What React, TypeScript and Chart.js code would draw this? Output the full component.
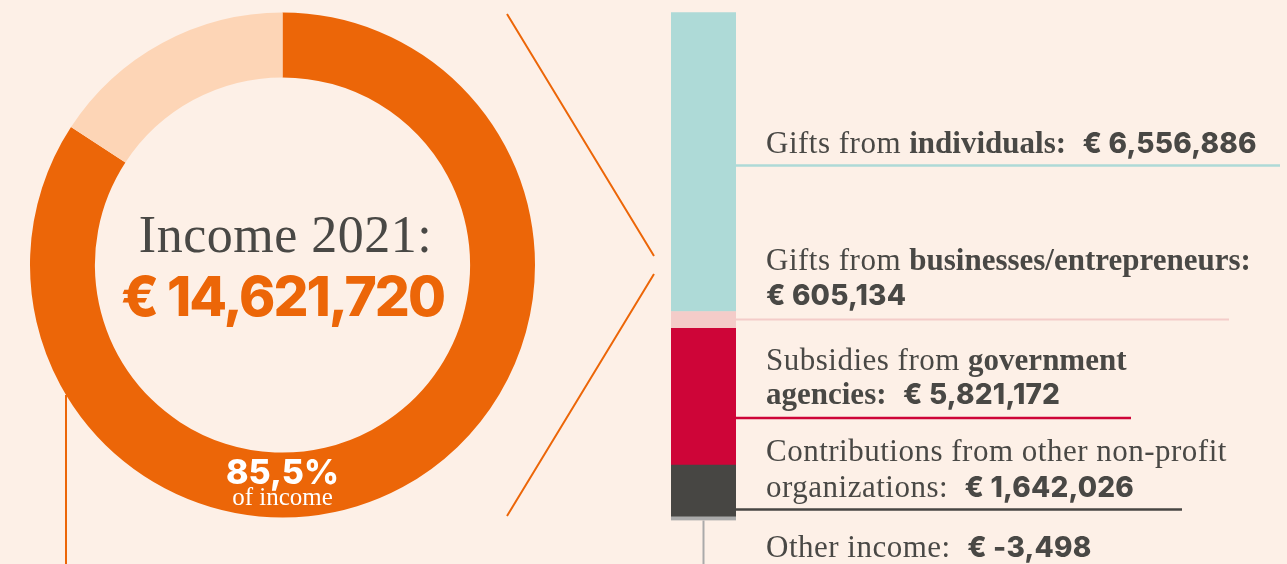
import React, { useEffect, useRef } from 'react';
import { Chart, registerables } from 'chart.js';

Chart.register(...registerables);

// ---------- data ----------
const donutLabels = ['Broken down on the right', 'Rest of income'];
const donutShares = [84.2, 15.8];
const incomeYear = 2021;
const totalIncome = 14621720;
const shareText = '85,5%';
const shareCaption = 'of income';

const sourceNames = [
  'Gifts from individuals',
  'Gifts from businesses/entrepreneurs',
  'Subsidies from government agencies',
  'Contributions from other non-profit organizations',
  'Other income',
];
const sourceAmounts = [6556886, 605134, 5821172, 1642026, -3498];
const barShares = [58.8, 3.3, 26.9, 10.2, 0.7];

// ---------- styles ----------
const W = 1287;
const H = 564;
const BG = '#FDF0E7';
const TEXT = '#494845';
const ORANGE = '#EC6608';
const PEACH = '#FDD5B6';
const sourceColors = ['#AEDAD7', '#F4CCC9', '#CE0538', '#474643', '#AAAAAA'];

const SERIF = '"Liberation Serif", serif';
const SANS = 'Inter, "Open Sans", sans-serif';
const LABEL_SIZE = 31;
const VALUE_SIZE = 28;

type Run = [string, 'r' | 'b' | 'v'];
const labelLines: Run[][][] = [
  [[['Gifts from ', 'r'], ['individuals:', 'b'], ['  ', 'r'], ['$', 'v']]],
  [[['Gifts from ', 'r'], ['businesses/entrepreneurs:', 'b']], [['$', 'v']]],
  [[['Subsidies from ', 'r'], ['government', 'b']], [['agencies:', 'b'], ['  ', 'r'], ['$', 'v']]],
  [[['Contributions from other non-profit', 'r']], [['organizations:', 'r'], ['  ', 'r'], ['$', 'v']]],
  [[['Other income:', 'r'], ['  ', 'r'], ['$', 'v']]],
];
const labelLayout = [
  { baselines: [153], lineY: 165.5, lineEnd: 1280, lineW: 2.5 },
  { baselines: [270, 305], lineY: 319.5, lineEnd: 1229, lineW: 2 },
  { baselines: [370, 404], lineY: 418, lineEnd: 1131, lineW: 2.5 },
  { baselines: [461, 497], lineY: 509.5, lineEnd: 1182, lineW: 2.5 },
  { baselines: [557], lineY: null as number | null, lineEnd: 0, lineW: 0 },
];
const LABEL_X = 766;

function fmt(n: number) {
  const s = Math.abs(n).toLocaleString('en-US');
  return (n < 0 ? '-' : '') + s;
}

const donutPlugin = {
  id: 'donutDecor',
  afterDraw(chart: any) {
    const ctx: CanvasRenderingContext2D = chart.ctx;
    const arc = chart.getDatasetMeta(0).data[0];
    const cx = arc.x;
    const cy = arc.y;
    const R = arc.outerRadius;
    ctx.save();
    ctx.textAlign = 'center';
    ctx.textBaseline = 'alphabetic';
    ctx.fillStyle = TEXT;
    ctx.font = `52px ${SERIF}`;
    (ctx as any).letterSpacing = '0.5px';
    ctx.fillText(`Income ${incomeYear}:`, cx + 3, cy - 13);
    ctx.fillStyle = ORANGE;
    ctx.font = `800 55px ${SANS}`;
    (ctx as any).letterSpacing = '-2px';
    ctx.fillText('€ ' + fmt(totalIncome), cx, cy + 51);
    (ctx as any).letterSpacing = '0px';
    ctx.fillStyle = '#FFFFFF';
    ctx.font = `800 34px ${SANS}`;
    ctx.fillText(shareText, cx, cy + 219);
    ctx.font = `25px ${SERIF}`;
    ctx.fillText(shareCaption, cx, cy + 240);

    // left vertical connector
    ctx.strokeStyle = ORANGE;
    ctx.lineWidth = 2;
    const dx = -216.5;
    const y0 = cy + Math.sqrt(R * R - dx * dx);
    ctx.beginPath();
    ctx.moveTo(cx + dx, y0);
    ctx.lineTo(cx + dx, H);
    ctx.stroke();

    // chevron
    ctx.beginPath();
    ctx.moveTo(cx + 224.5, cy - 251);
    ctx.lineTo(cx + 371.5, cy - 9);
    ctx.moveTo(cx + 371.5, cy + 9);
    ctx.lineTo(cx + 224.5, cy + 251);
    ctx.stroke();
    ctx.restore();
  },
};

const barPlugin = {
  id: 'barLabels',
  afterDraw(chart: any) {
    const ctx: CanvasRenderingContext2D = chart.ctx;
    const n = sourceNames.length;
    ctx.save();
    for (let i = 0; i < n; i++) {
      const dsIndex = n - 1 - i;
      const el = chart.getDatasetMeta(dsIndex).data[0];
      const right = el.x + el.width / 2;
      const lay = labelLayout[i];
      ctx.strokeStyle = sourceColors[i];
      if (lay.lineY !== null) {
        ctx.lineWidth = lay.lineW;
        ctx.beginPath();
        ctx.moveTo(right, lay.lineY);
        ctx.lineTo(lay.lineEnd, lay.lineY);
        ctx.stroke();
      } else {
        ctx.lineWidth = 2;
        ctx.beginPath();
        ctx.moveTo(el.x, el.base);
        ctx.lineTo(el.x, H);
        ctx.stroke();
      }
      // text
      ctx.fillStyle = TEXT;
      ctx.textAlign = 'left';
      ctx.textBaseline = 'alphabetic';
      labelLines[i].forEach((line, li) => {
        let x = LABEL_X;
        const y = lay.baselines[li];
        line.forEach(([txt, kind]) => {
          let t = txt;
          if (kind === 'v') {
            t = '€ ' + fmt(sourceAmounts[i]);
            ctx.font = `800 ${VALUE_SIZE}px ${SANS}`;
            (ctx as any).letterSpacing = '0.2px';
          } else if (kind === 'b') {
            ctx.font = `bold ${LABEL_SIZE}px ${SERIF}`;
            (ctx as any).letterSpacing = '0px';
          } else {
            ctx.font = `${LABEL_SIZE}px ${SERIF}`;
            (ctx as any).letterSpacing = '0.5px';
          }
          ctx.fillText(t, x, y);
          x += ctx.measureText(t).width;
        });
      });
    }
    (ctx as any).letterSpacing = '0px';
    ctx.restore();
  },
};

export default function App() {
  const donutRef = useRef<HTMLCanvasElement>(null);
  const barRef = useRef<HTMLCanvasElement>(null);

  useEffect(() => {
    document.body.style.margin = '0';
    document.body.style.background = BG;
    const donut = new Chart(donutRef.current!, {
      type: 'doughnut',
      data: {
        labels: donutLabels,
        datasets: [
          {
            data: donutShares,
            backgroundColor: [ORANGE, PEACH],
            borderWidth: 0,
          },
        ],
      },
      options: {
        responsive: false,
        animation: false,
        cutout: '74.3%',
        layout: { padding: { left: 30, top: 12, right: W - 535, bottom: H - 518 } },
        plugins: { legend: { display: false }, tooltip: { enabled: false } },
      },
      plugins: [donutPlugin],
    } as any);

    const n = sourceNames.length;
    const datasets = [];
    for (let k = n - 1; k >= 0; k--) {
      datasets.push({
        label: sourceNames[k],
        data: [barShares[k]],
        backgroundColor: sourceColors[k],
        borderWidth: 0,
        barPercentage: 1,
        categoryPercentage: 1,
      });
    }
    const bar = new Chart(barRef.current!, {
      type: 'bar',
      data: { labels: ['Income 2021'], datasets },
      options: {
        responsive: false,
        animation: false,
        layout: { padding: { left: 671, right: W - 736, top: 12, bottom: H - 520.5 } },
        scales: {
          x: { display: false, stacked: true },
          y: { display: false, stacked: true, min: 0, max: 100 },
        },
        plugins: { legend: { display: false }, tooltip: { enabled: false } },
      },
      plugins: [barPlugin],
    } as any);

    return () => {
      donut.destroy();
      bar.destroy();
    };
  }, []);

  return (
    <div style={{ position: 'relative', width: W, height: H, background: BG, overflow: 'hidden' }}>
      <canvas ref={donutRef} width={W} height={H} style={{ position: 'absolute', left: 0, top: 0 }} />
      <canvas ref={barRef} width={W} height={H} style={{ position: 'absolute', left: 0, top: 0 }} />
    </div>
  );
}
